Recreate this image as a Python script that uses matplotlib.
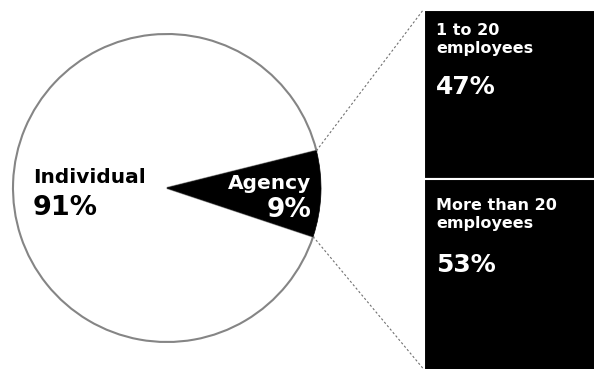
import matplotlib
matplotlib.use('Agg')
import matplotlib.pyplot as plt
import numpy as np

# pie data
pie_labels = ['Agency', 'Individual']
pie_values = [9, 91]
# breakdown of agency
bar_labels = ['1 to 20\nemployees', 'More than 20\nemployees']
bar_values = [47, 53]

W, H = 594, 369
fig = plt.figure(figsize=(W / 100, H / 100), dpi=100)
ax = fig.add_axes([0, 0, 1, 1])

# pie, in pixel-like coords (y up)
cx, cy, r = 167, 181, 154
start = -18.4
wedges, _ = ax.pie(pie_values, colors=['black', 'white'], startangle=start,
                   counterclock=True, center=(cx, cy), radius=r,
                   wedgeprops=dict(edgecolor='#858585', linewidth=1.5))
wedges[0].set_edgecolor('black')
wedges[0].set_linewidth(0.5)
wedges[1].set_zorder(0.5)

# stacked bar on the right
bx, bw = 423.5, 175
btop, bbot = 359.5, -2
scale = (btop - bbot) / sum(bar_values)
tops = []
cur = btop
for v in bar_values:
    ax.bar(bx, v * scale, bottom=cur - v * scale, width=bw, align='edge',
           color='black', edgecolor='white', linewidth=1.5)
    tops.append(cur)
    cur -= v * scale

# dotted connector lines
a1 = np.radians(start + pie_values[0] / 100 * 360)
a0 = np.radians(start)
ax.plot([cx + r * np.cos(a1), bx], [cy + r * np.sin(a1), btop],
        color='#707070', linestyle=(0, (2, 2)), linewidth=0.8)
ax.plot([cx + r * np.cos(a0), bx], [cy + r * np.sin(a0), 0],
        color='#707070', linestyle=(0, (2, 2)), linewidth=0.8)

# pie labels
ax.text(33, 186, pie_labels[1], fontsize=14.5, fontweight='bold', color='black', va='baseline')
ax.text(33, 154, f'{pie_values[1]}%', fontsize=19.5, fontweight='bold', color='black', va='baseline')
ax.text(311, 180, pie_labels[0], fontsize=14.5, fontweight='bold', color='white',
        va='baseline', ha='right')
ax.text(311, 152, f'{pie_values[0]}%', fontsize=19, fontweight='bold', color='white',
        va='baseline', ha='right')

# bar labels
label_off = [13.5, 19]
pct_off = [65.5, 73.5]
for lab, v, t, lo, po in zip(bar_labels, bar_values, tops, label_off, pct_off):
    ax.text(436, t - lo, lab, fontsize=11.5, fontweight='bold', color='white',
            va='top', ha='left', linespacing=1.25)
    ax.text(436, t - po, f'{v}%', fontsize=18, fontweight='bold', color='white',
            va='top', ha='left')

ax.set_xlim(0, W)
ax.set_ylim(0, H)
ax.set_aspect('equal')
ax.axis('off')

fig.savefig('out.png', dpi=100)
